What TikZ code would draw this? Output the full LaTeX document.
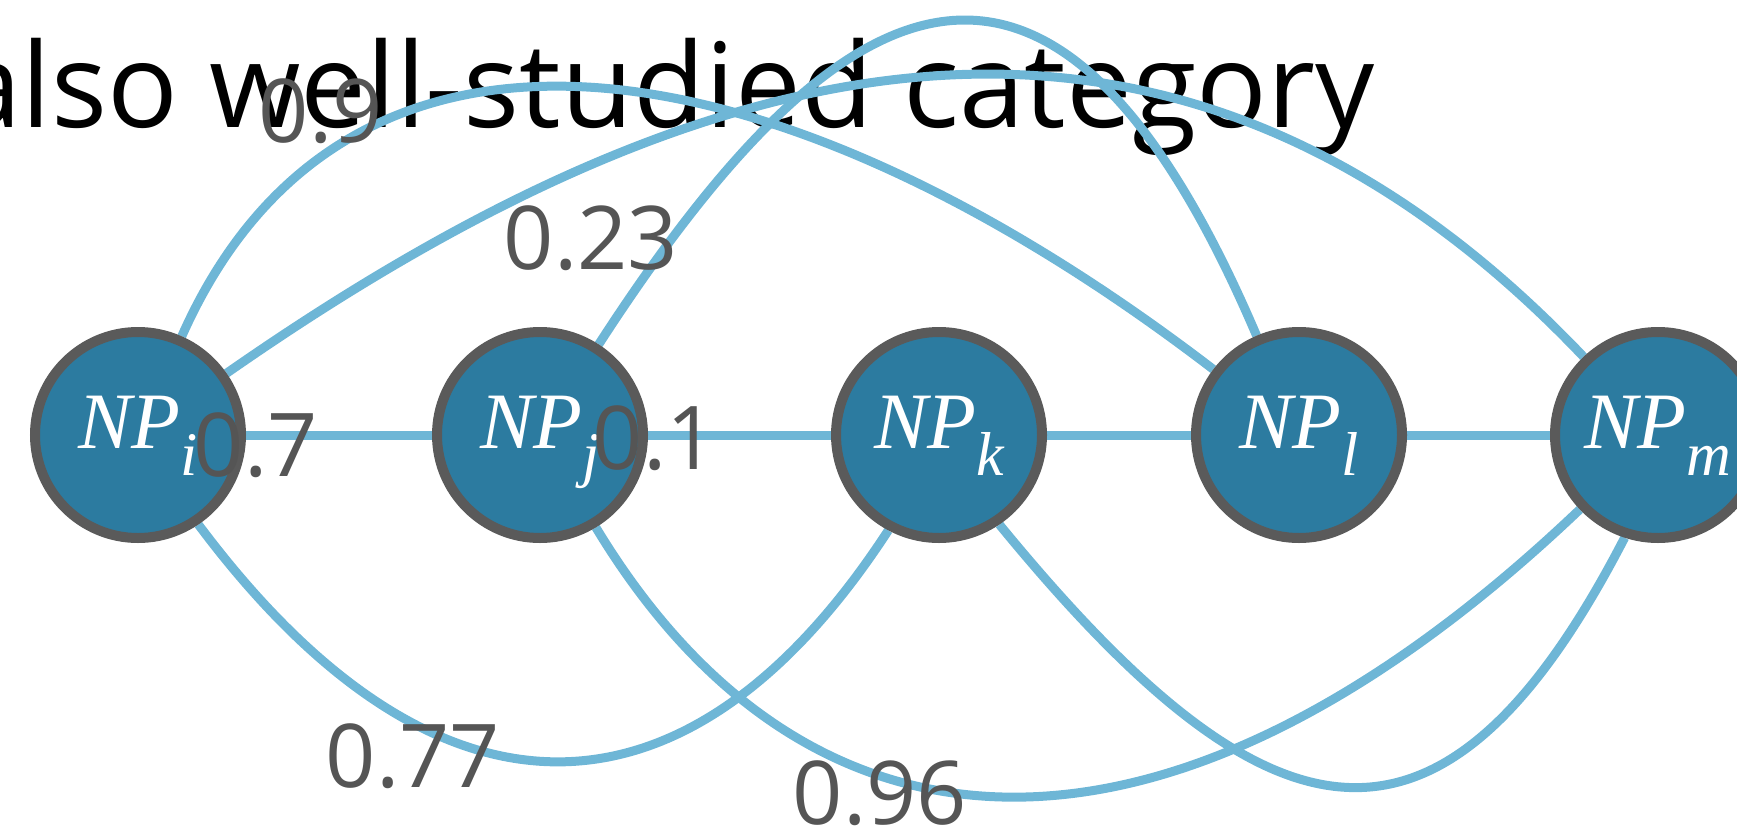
\documentclass[tikz,border=0pt]{standalone}
\usepackage{fontspec}
\newfontfamily\titlefont{Open Sans}
\newfontfamily\npfont{Liberation Serif}
\usetikzlibrary{backgrounds}
\definecolor{edgeblue}{RGB}{110,182,214}
\definecolor{nodefill}{RGB}{44,123,160}
\definecolor{nodeline}{RGB}{90,90,90}
\definecolor{weightgray}{RGB}{85,85,85}
% lowered, slightly smaller index after NP
\newcommand\npidx[1]{\raisebox{-27pt}{\fontsize{62}{62}\selectfont #1}}
\begin{document}
\begin{tikzpicture}[x=1pt,y=-1pt,
  npnode/.style={circle, draw=nodeline, line width=10pt, fill=nodefill,
    minimum size=206pt, inner sep=0pt},
  nptext/.style={anchor=base, inner sep=0pt, text=white,
    font=\npfont\itshape\fontsize{80}{80}\selectfont},
  edge/.style={draw=edgeblue, line width=9pt},
  weight/.style={inner sep=0pt, text=weightgray,
    font=\titlefont\fontsize{88}{88}\selectfont},
  headline/.style={anchor=base east, inner sep=0pt, text=black,
    font=\titlefont\fontsize{117.5}{117.5}\selectfont}]
\useasboundingbox (0,0) rectangle (1737,830);

% the five NP nodes
\node[npnode] (i) at (138,435) {};
\node[npnode] (j) at (540,435) {};
\node[npnode] (k) at (939,435) {};
\node[npnode] (l) at (1299,435) {};
\node[npnode] (m) at (1658,435) {};

\node[nptext] (ti) at (138,448) {NP\npidx{i}};
\node[nptext] (tj) at (540,448) {NP\npidx{j}};
\node[nptext] (tk) at (939,448) {NP\npidx{k}};
\node[nptext] (tl) at (1299,448) {NP\npidx{l}};
\node[nptext] (tm) at (1658,448) {NP\npidx{m}};

\begin{scope}[on background layer]
  % heading text, behind the edges
  \node[headline] (head) at (1375,127) {also well-studied category};
  % straight neighbours
  \draw[edge] (i) -- (j);
  \draw[edge] (j) -- (k);
  \draw[edge] (k) -- (l);
  \draw[edge] (l) -- (m);
  % arcs above
  \draw[edge] (i) .. controls (346,-34) and (773,32) .. (l);
  \draw[edge] (i) .. controls (706,39) and (1169,-79) .. (m);
  \draw[edge] (j) .. controls (840,-28) and (1053,-141) .. (l);
  % arcs below
  \draw[edge] (i.304) .. controls (438,845) and (690,835) .. (k.242);
  \draw[edge] (j) .. controls (815,890) and (1180,890) .. (m);
  \draw[edge] (k.304) .. controls (1266,850) and (1440,895) .. (m.252);
\end{scope}

% edge weights
\node[weight] (w09)  at (321,111) {0.9};
\node[weight] (w023) at (591,238) {0.23};
\node[weight] (w07)  at (256,445) {0.7};
\node[weight] (w01)  at (655,438) {0.1};
\node[weight] (w077) at (413,756) {0.77};
\node[weight] (w096) at (880,793) {0.96};
\end{tikzpicture}
\end{document}
